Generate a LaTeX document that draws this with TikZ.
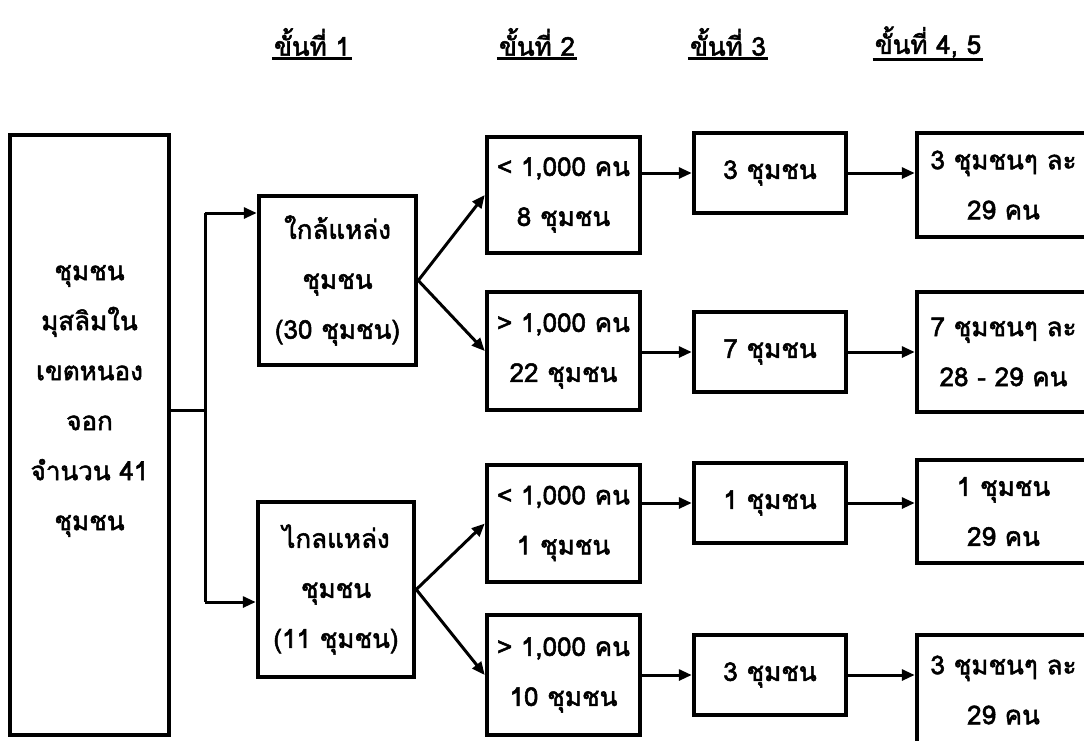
\documentclass[tikz,border=0pt]{standalone}
\usepackage{fontspec}
\newfontfamily\thaifont[Script=Thai,AutoFakeBold=2]{Loma}
\usetikzlibrary{arrows.meta}
\begin{document}
\begin{tikzpicture}[x=1pt,y=-1pt,
  every node/.style={font=\thaifont\bfseries\fontsize{26}{50}\selectfont},
  box/.style={draw,line width=4.5pt,align=center,inner sep=0pt},
  txt/.style={align=center,inner sep=0pt},
  arr/.style={line width=3pt,-{Triangle[length=13pt,width=11pt]}},
  ln/.style={line width=3pt},
  hd/.style={inner sep=2pt},
  ul/.style={line width=3pt}]
\clip (0,0) rectangle (1084,740);
\fill[white] (0,0) rectangle (1084,740);
% headers
\node[hd] (h1) at (312,42) {ขั้นที่ 1};
\node[hd] (h2) at (537,42) {ขั้นที่ 2};
\node[hd] (h3) at (728,42) {ขั้นที่ 3};
\node[hd] (h4) at (928,42) {ขั้นที่ 4, 5};
\foreach \h in {h1,h2,h3,h4}{\draw[ul] (\h.south west) -- (\h.south east);}
% left box
\node[box,minimum width=159pt,minimum height=600pt] (L) at (89.5,435) {};
\node[txt] (Lt) at (89.5,401) {ชุมชน\\มุสลิมใน\\เขตหนอง\\จอก\\จำนวน 41\\ชุมชน};
% stage 1
\node[box,minimum width=157pt,minimum height=169pt] (A) at (337.5,280.5) {ใกล้แหล่ง\\ชุมชน\\(30 ชุมชน)};
\node[box,minimum width=156pt,minimum height=175pt] (B) at (336,589.5) {ไกลแหล่ง\\ชุมชน\\(11 ชุมชน)};
% stage 2
\node[box,minimum width=153pt,minimum height=116pt] (S2a) at (563.5,195) {< 1,000 คน\\8 ชุมชน};
\node[box,minimum width=153pt,minimum height=118pt] (S2b) at (563.5,351) {> 1,000 คน\\22 ชุมชน};
\node[box,minimum width=153pt,minimum height=117pt] (S2c) at (563.5,523.5) {< 1,000 คน\\1 ชุมชน};
\node[box,minimum width=153pt,minimum height=120pt] (S2d) at (563.5,675) {> 1,000 คน\\10 ชุมชน};
% stage 3
\node[box,minimum width=152pt,minimum height=80pt] (S3a) at (770,173) {3 ชุมชน};
\node[box,minimum width=152pt,minimum height=80pt] (S3b) at (770,352) {7 ชุมชน};
\node[box,minimum width=152pt,minimum height=80pt] (S3c) at (770,503) {1 ชุมชน};
\node[box,minimum width=152pt,minimum height=80pt] (S3d) at (770,675) {3 ชุมชน};
% stage 4,5
\node[box,minimum width=173pt,minimum height=104pt] (S4a) at (1003.5,185) {3 ชุมชนๆ ละ\\29 คน};
\node[box,minimum width=173pt,minimum height=120pt] (S4b) at (1003.5,352) {7 ชุมชนๆ ละ\\28 - 29 คน};
\node[box,minimum width=173pt,minimum height=103pt] (S4c) at (1003.5,511.5) {1 ชุมชน\\29 คน};
\node[box,minimum width=173pt,minimum height=110pt] (S4d) at (1003.5,690) {3 ชุมชนๆ ละ\\29 คน};
% fork
\coordinate (f) at (205,410);
\coordinate (fa) at (205,213);
\coordinate (fb) at (205,602);
\draw[ln] (L.east |- f) -- (f);
\draw[ln] (fa) -- (fb);
\draw[arr] (fa) -- (A.west |- fa);
\draw[arr] (fb) -- (B.west |- fb);
% stage1 -> stage2
\draw[arr] (A.east) -- (S2a.west);
\draw[arr] (A.east) -- (S2b.west);
\draw[arr] (B.east) -- (S2c.west);
\draw[arr] (B.east) -- (S2d.west);
% rows
\draw[arr] (S2a.east |- S3a.west) -- (S3a.west);
\draw[arr] (S3a.east) -- (S4a.west |- S3a.east);
\draw[arr] (S2b.east |- S3b.west) -- (S3b.west);
\draw[arr] (S3b.east) -- (S4b.west |- S3b.east);
\draw[arr] (S2c.east |- S3c.west) -- (S3c.west);
\draw[arr] (S3c.east) -- (S4c.west |- S3c.east);
\draw[arr] (S2d.east |- S3d.west) -- (S3d.west);
\draw[arr] (S3d.east) -- (S4d.west |- S3d.east);
\end{tikzpicture}
\end{document}
